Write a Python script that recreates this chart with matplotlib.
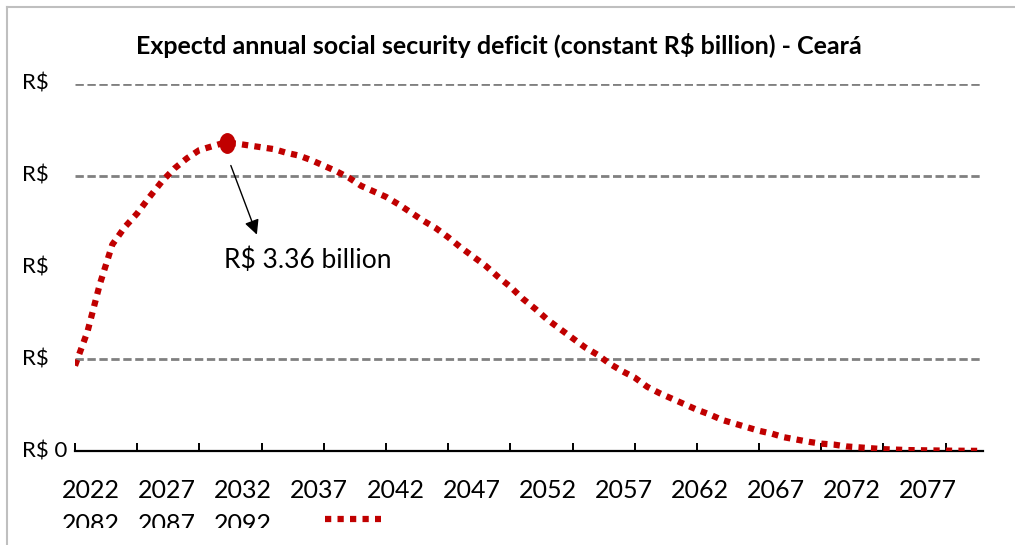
import matplotlib
matplotlib.use("Agg")
import matplotlib.pyplot as plt
from matplotlib.lines import Line2D
from matplotlib.markers import MarkerStyle
from matplotlib.transforms import Affine2D, Bbox, TransformedBbox

plt.rcParams['font.family'] = ['Lato', 'DejaVu Sans']

# data (constant R$ billion)
years = list(range(2022, 2096))
deficit = [0.93, 1.30, 1.82, 2.25, 2.44, 2.59, 2.77, 2.94, 3.08, 3.19,
           3.28, 3.32, 3.36, 3.35, 3.33, 3.31, 3.29, 3.25, 3.22, 3.17,
           3.11, 3.05, 2.98, 2.89, 2.83, 2.77, 2.69, 2.60, 2.51, 2.43,
           2.33, 2.22, 2.12, 2.02, 1.90, 1.79, 1.66, 1.55, 1.43, 1.33,
           1.23, 1.13, 1.05, 0.95, 0.87, 0.80, 0.70, 0.63, 0.57, 0.51,
           0.45, 0.40, 0.34, 0.30, 0.26, 0.22, 0.19, 0.15, 0.125, 0.10,
           0.08, 0.07, 0.05, 0.04, 0.03, 0.02, 0.015, 0.01, 0.008, 0.006,
           0.004, 0.003, 0.002, 0.001]
tick_years = list(range(2022, 2093, 5))
tick_labels = [str(y) for y in tick_years]
ytick_vals = [0, 1, 2, 3, 4]
ytick_labels = ['R$ 0', 'R$', 'R$', 'R$', 'R$']
grid_levels = [1, 3, 4]
title = 'Expectd annual social security deficit (constant R$ billion) - Ceará'

W, H = 1015, 545
RED = '#C00000'
fig = plt.figure(figsize=(W / 100, H / 100), dpi=100)
ax = fig.add_axes([75 / W, 94 / H, 908 / W, 367 / H])

for g in grid_levels:
    ax.axhline(g, color='#808080', lw=2, ls=(0, (3.0, 1.3)), zorder=1)

ax.plot(years, deficit, color=RED, lw=4.5, ls=(0, (1, 1)), zorder=3)

# peak marker + annotation
pk = deficit.index(max(deficit))
ell = MarkerStyle('o', transform=Affine2D().scale(0.75, 1.0))
ax.plot(years[pk] + 0.2, deficit[pk], marker=ell, ms=14, color=RED, zorder=4, clip_on=False)
ax.annotate('', xy=(2036.7, 2.33), xytext=(2034.45, 3.14),
            arrowprops=dict(arrowstyle='-|>', color='black', lw=1, mutation_scale=22))
ax.text(2034.0, 2.08, f'R$ {deficit[pk]:.2f} billion', fontsize=19, va='center', ha='left')

ax.set_xlim(years[0], years[-1])
ax.set_ylim(0, 4)
for s in ['left', 'right', 'top']:
    ax.spines[s].set_visible(False)
ax.spines['bottom'].set_linewidth(1.6)
ax.set_xticks(tick_years)
ax.set_xticklabels([])
ax.tick_params(axis='x', direction='in', length=6, width=1.4)
ax.set_yticks([])

for v, lab in zip(ytick_vals, ytick_labels):
    ax.text(-53 / 908, v, lab, transform=ax.get_yaxis_transform(),
            ha='left', va='center', fontsize=16)

# tick labels wrapped over two rows, second row cut at the chart edge
clip = TransformedBbox(Bbox([[0, 17 / H], [1, 1]]), fig.transFigure)
for i, lab in enumerate(tick_labels):
    row, col = divmod(i, 12)
    t = fig.text((91 + 76.1 * col) / W, 1 - (490 + 34 * row) / H, lab,
                 ha='center', va='center', fontsize=18)
    if row:
        t.set_clip_box(clip)
        t.set_clip_on(True)

# legend key (no label)
fig.add_artist(Line2D([325 / W, 381 / W], [1 - 519 / H] * 2, color=RED, lw=4.5, ls=(0, (1, 1))))

fig.text(499 / W, 1 - 46 / H, title, ha='center', va='center', fontsize=18, fontweight='bold')

# chart area border (only left and top visible)
fig.add_artist(Line2D([7 / W, 7 / W], [0, 1 - 7 / H], color='#bfbfbf', lw=1.5))
fig.add_artist(Line2D([7 / W, 1], [1 - 7 / H] * 2, color='#bfbfbf', lw=1.5))

fig.savefig('out.png', dpi=100)
